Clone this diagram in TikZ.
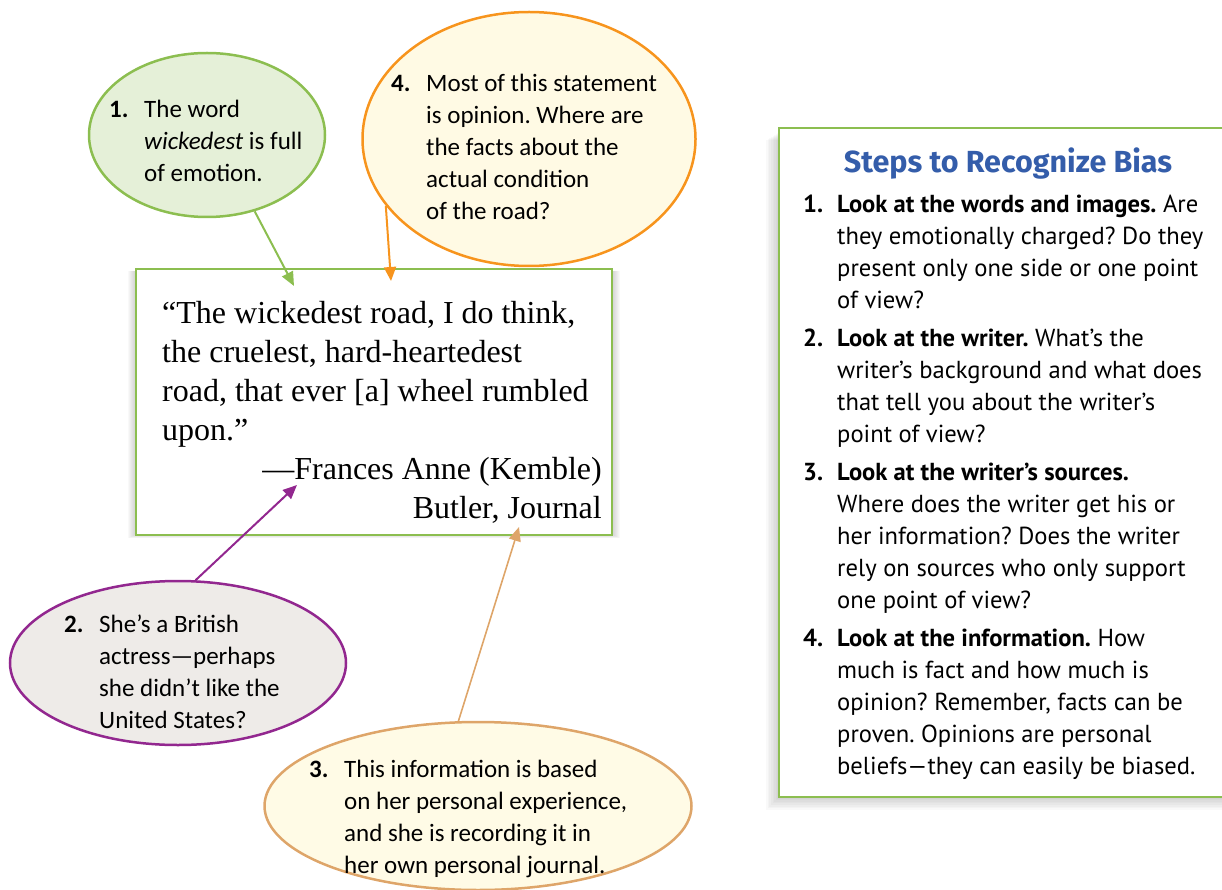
\documentclass[tikz,border=0pt]{standalone}
\usepackage{fontspec}
\setmainfont{Liberation Serif}
\newfontfamily\callfont{Carlito}
\newfontfamily\boxfont{PT Sans}
\newfontfamily\titlefont{Fira Sans}
\usetikzlibrary{shapes.geometric,arrows.meta}
\definecolor{cgreen}{RGB}{140,190,80}
\definecolor{cgreenf}{RGB}{229,240,216}
\definecolor{corange}{RGB}{247,148,29}
\definecolor{corangef}{RGB}{255,250,228}
\definecolor{cpurple}{RGB}{146,39,143}
\definecolor{cpurplef}{RGB}{238,235,232}
\definecolor{ctan}{RGB}{222,165,105}
\definecolor{ctanf}{RGB}{255,251,230}
\definecolor{cblue}{RGB}{52,93,170}
\newcommand\ci{\hspace*{35pt}}
\newcommand\cn[1]{\makebox[35pt][l]{\bfseries #1}}
\newcommand\bi{\hspace*{34pt}}
\newcommand\bn[1]{\makebox[34pt][l]{\bfseries #1}}
\frenchspacing
\begin{document}
\frenchspacing
\begin{tikzpicture}[x=1pt,y=-1pt,
  bubble/.style={ellipse, line width=2.5pt, inner sep=0pt},
  arr/.style={line width=2pt, -{Triangle[length=14pt,width=12pt]}},
  ctext/.style={font=\callfont\fontsize{25}{32}\selectfont, align=left, inner sep=0pt, anchor=north west},
  qtext/.style={font=\fontsize{32}{39}\selectfont, inner sep=0pt},
  btext/.style={font=\boxfont\fontsize{24.6}{32}\selectfont, align=left, inner sep=0pt, anchor=north west},
  panel/.style={draw=cgreen, fill=white, line width=1.3pt, inner sep=0pt}]
\useasboundingbox (0,0) rectangle (1222,890);
% shadows
\foreach \i in {1,...,8}{
  \fill[black, opacity=0.025] (136-\i,271) rectangle (612+\i,534+0.5*\i);
  \fill[black, opacity=0.025] (779-1.6*\i,132+\i) rectangle (1240,797+1.6*\i);
}
% panels
\node[panel, minimum width=476pt, minimum height=266pt] (qbox) at (374,402) {};
\node[panel, minimum width=461pt, minimum height=669pt] (rbox) at (1009.5,462.5) {};
% bubbles
\node[bubble, draw=cgreen, fill=cgreenf, minimum width=236pt, minimum height=164pt] (e1) at (207,135) {};
\node[bubble, draw=corange, fill=corangef, minimum width=333pt, minimum height=254pt] (e4) at (529,139) {};
\node[bubble, draw=cpurple, fill=cpurplef, minimum width=336pt, minimum height=164pt] (e2) at (178,663) {};
\node[bubble, draw=ctan, fill=ctanf, minimum width=427pt, minimum height=168pt] (e3) at (478,806) {};
% arrow targets
\coordinate (a1) at (294,286);
\coordinate (a4) at (391,281);
\coordinate (a2) at (297,485);
\coordinate (a3) at (519,527);
\draw[arr, cgreen] (e1.-58) -- (a1);
\draw[arr, corange] (e4.205) -- (a4);
\draw[arr, cpurple] (e2.78) -- (a2);
\draw[arr, ctan, line width=1.6pt] (e3.103) -- (a3);
% callout texts
\node[ctext] (t1) at (109,94.6) {\strut\cn{1.}The word\\ \ci\textit{wickedest} is full\\ \ci of emotion.};
\node[ctext] (t4) at (391,68.6) {\strut\cn{4.}Most of this statement\\ \ci is opinion. Where are\\ \ci the facts about the\\ \ci actual condition\\ \ci of the road?};
\node[ctext] (t2) at (64,609.6) {\strut\cn{2.}She’s a British\\ \ci actress—perhaps\\ \ci she didn’t like the\\ \ci United States?};
\node[ctext] (t3) at (309,754.6) {\strut\cn{3.}This information is based\\ \ci on her personal experience,\\ \ci and she is recording it in\\ \ci her own personal journal.};
% quote
\node[qtext, align=left, anchor=north west] (quote) at (162,295.7) {\strut“The wickedest road, I do think,\\ the cruelest, hard-heartedest\\ road, that ever [a] wheel rumbled\\ upon.”};
\node[qtext, align=right, anchor=north east] (attr) at (602,451.7) {\strut—Frances Anne (Kemble)\\ Butler, Journal};
% right panel
\node[font=\titlefont\bfseries\fontsize{30.5}{34}\selectfont, text=cblue, inner sep=0pt, anchor=base] (title) at (1008,173) {Steps to Recognize Bias};
\node[btext] (steps) at (803,189.6) {\strut\bn{1.}\textbf{Look at the words and images.} Are\\
\bi they emotionally charged? Do they\\
\bi present only one side or one point\\
\bi of view?\\[6pt]
\bn{2.}\textbf{Look at the writer.} What’s the\\
\bi writer’s background and what does\\
\bi that tell you about the writer’s\\
\bi point of view?\\[6pt]
\bn{3.}\textbf{Look at the writer’s sources.}\\
\bi Where does the writer get his or\\
\bi her information? Does the writer\\
\bi rely on sources who only support\\
\bi one point of view?\\[6pt]
\bn{4.}\textbf{Look at the information.} How\\
\bi much is fact and how much is\\
\bi opinion? Remember, facts can be\\
\bi proven. Opinions are personal\\
\bi beliefs—they can easily be biased.};
\end{tikzpicture}
\end{document}
